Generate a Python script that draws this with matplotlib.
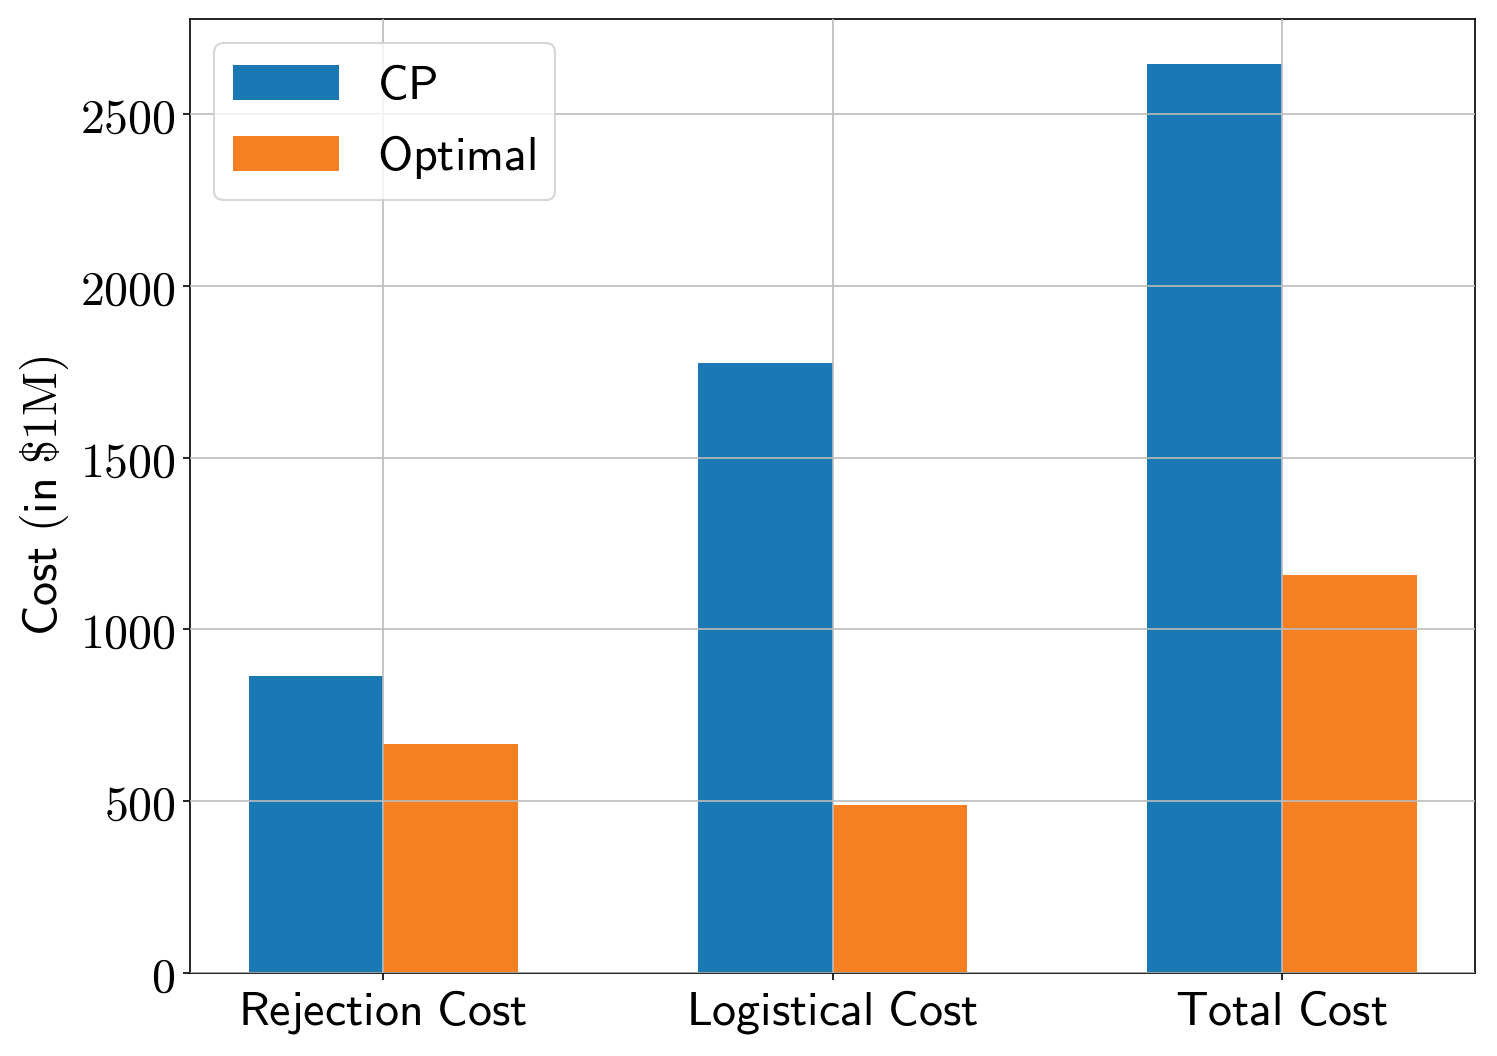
import numpy as np
import matplotlib
matplotlib.use("Agg")
import matplotlib.pyplot as plt

plt.rcParams['mathtext.fontset'] = 'cm'

categories = ['Rejection Cost', 'Logistical Cost', 'Total Cost']
cp_vals = [865, 1777, 2645]
opt_vals = [667, 490, 1160]
series_names = ['CP', 'Optimal']

def sf(s):
    return r'$\mathsf{' + s.replace(' ', r'\ ') + '}$'

fig = plt.figure(figsize=(9.98, 7.04), dpi=150)
ax = fig.add_axes([0.127, 0.0786, 0.8583, 0.9034])

x = np.arange(len(categories))
w = 0.3
ax.bar(x - w/2, cp_vals, w, color='#1a78b4', label=sf(series_names[0]), zorder=1)
ax.bar(x + w/2, opt_vals, w, color='#f58022', label=sf(series_names[1]), zorder=1)

ax.set_axisbelow(False)
ax.grid(True, color='#bbbbbb', linewidth=0.8, zorder=2)
ax.set_xticks(x)
ax.set_xticklabels([sf(c) for c in categories], fontsize=23)
yt = [0, 500, 1000, 1500, 2000, 2500]
ax.set_yticks(yt)
ax.set_yticklabels([r'$' + str(v) + '$' for v in yt], fontsize=23)
ax.set_ylabel(r'$\mathsf{Cost\ (in\ }\$1\mathrm{M}\mathsf{)}$', fontsize=23)

leg = ax.legend(loc='upper left', fontsize=23, handlelength=2.2, handleheight=0.75,
                borderpad=0.4, labelspacing=0.5)
leg.get_frame().set_edgecolor('#cccccc')

fig.savefig('out.png', dpi=150)
